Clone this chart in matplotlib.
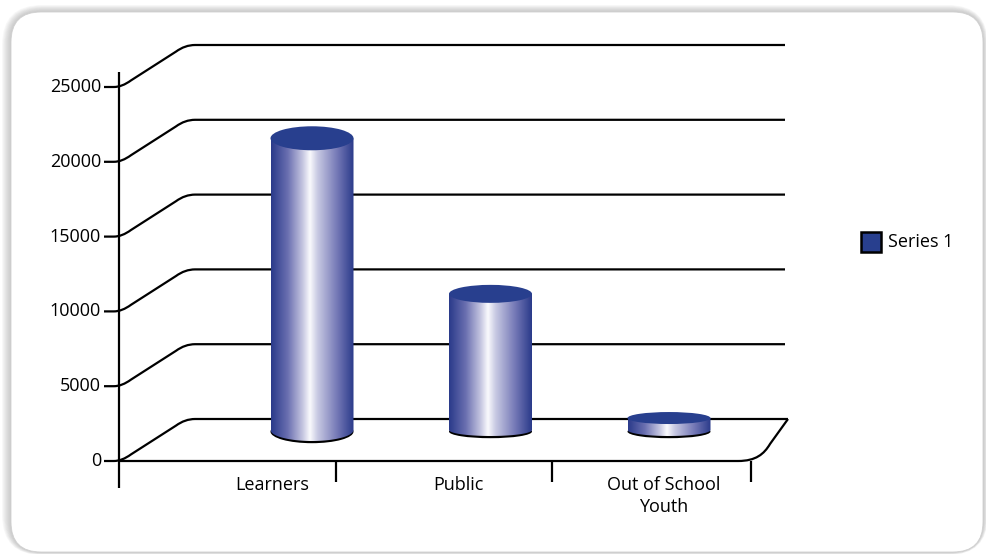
import numpy as np
import matplotlib.pyplot as plt
from matplotlib.patches import Ellipse, FancyBboxPatch, Rectangle, PathPatch, Polygon
from matplotlib.path import Path
from matplotlib.colors import LinearSegmentedColormap

plt.rcParams['font.family'] = ['Open Sans', 'DejaVu Sans']

# data
categories = ['Learners', 'Public', 'Out of School\nYouth']
values = [19500, 9100, 800]
series_name = 'Series 1'
yticks = [0, 5000, 10000, 15000, 20000, 25000]

W, H = 987, 554
# pixel calibration of the fake 3d box
PX0, PXS = 312, 178.5          # pixel x of category 0, pixels per category
PY0, PYS = 461, 74.8 / 5000    # pixel y of value 0 (front), pixels per unit
DX, DY = 76 / PXS, 42 / PYS    # depth of the box
BASE = 31 / PYS                # cylinders stand a bit behind the front edge
FS = 13

BLUE = '#283f8e'
top_hh = [12, 9, 6]      # half height of top ellipses (px)
bot_hh = [11, 6, 6]      # half height of bottom ellipses (px)
lab_dx = [-40, -32, -5]  # label shift from cylinder centre (px)


def X(px):
    return (px - PX0) / PXS


def Y(py):
    return (PY0 - py) / PYS


fig = plt.figure(figsize=(W / 100, H / 100), dpi=100)

# frame in pixel coords
ax0 = fig.add_axes([0, 0, 1, 1])
ax0.set_xlim(0, W)
ax0.set_ylim(H, 0)
ax0.axis('off')
for k in range(10, 0, -1):
    ax0.add_patch(FancyBboxPatch((11 - k * 0.9, 12 - k * 0.7), 972 + k * 1.4, 540 + k * 1.0,
                                 boxstyle='round,pad=0,rounding_size=%d' % (30 + k),
                                 fc='#8a8a8a', ec='none', alpha=0.05))
ax0.add_patch(FancyBboxPatch((11, 12), 972, 540, boxstyle='round,pad=0,rounding_size=30',
                             fc='white', ec='#d0d0d0', lw=0.6))

# legend
ax0.add_patch(Rectangle((861, 232), 20, 20, fc=BLUE, ec='black', lw=1.8))
ax0.text(888, 242, series_name, fontsize=FS, va='center', ha='left')

# chart axes in data units
ax = fig.add_axes([0, 0, 1, 1])
ax.set_xlim(X(0), X(W))
ax.set_ylim(Y(H), Y(0))
ax.patch.set_alpha(0)
ax.axis('off')

lk = dict(color='black', lw=1.6, solid_capstyle='butt', zorder=2)
xa = X(119)
bend = 6.6 / PYS

# walls: tick dash, slanted connector, back line
for t in yticks:
    y1 = t + DY
    verts = [(X(104), t), (X(114), t), (X(122), t), (X(131), t + bend),
             (X(176), y1 - bend), (X(185), y1), (X(195), y1),
             (X(785) if t else X(788), y1)]
    codes = [Path.MOVETO, Path.LINETO, Path.CURVE3, Path.CURVE3,
             Path.LINETO, Path.CURVE3, Path.CURVE3, Path.LINETO]
    ax.add_patch(PathPatch(Path(verts, codes), fill=False, ec='black', lw=1.6, zorder=2))
    ax.text(X(101), t, str(t), ha='right', va='center', fontsize=FS)

# floor front edge with rounded right corner
verts = [(xa, 0), (X(738), 0), (X(756), 0), (X(764), Y(454)), (X(770), Y(444)), (X(788), DY)]
codes = [Path.MOVETO, Path.LINETO, Path.CURVE4, Path.CURVE4, Path.CURVE4, Path.LINETO]
ax.add_patch(PathPatch(Path(verts, codes), fill=False, ec='black', lw=1.6, zorder=2))

# y axis line and category ticks
ax.plot([xa, xa], [Y(72), Y(488)], **lk)
for px in [336, 552, 751]:
    ax.plot([X(px), X(px)], [0, Y(482)], **lk)

# cylinders
cmap = LinearSegmentedColormap.from_list('cyl', [
    (0.0, '#2a3a8a'), (0.2, '#6a6fb0'), (0.38, '#c4c5e0'), (0.47, '#fafafd'),
    (0.56, '#c9cae3'), (0.8, '#7478b6'), (1.0, '#2a3a8a')])
grad = np.linspace(0, 1, 256).reshape(1, -1)
hw = 41.5 / PXS

for i, (cat, v) in enumerate(zip(categories, values)):
    yb = BASE
    yt = BASE + v
    th = top_hh[i] / PYS
    bh = bot_hh[i] / PYS
    # dark rim under the bottom
    ax.add_patch(Ellipse((i, yb - 1.6 / PYS), 2 * hw, 2 * bh + 1.2 / PYS, fc='black', ec='none', zorder=3))
    ang = np.linspace(np.pi, 2 * np.pi, 80)
    pts = [(i - hw, yt), (i - hw, yb)]
    pts += list(zip(i + hw * np.cos(ang), yb + bh * np.sin(ang)))
    pts += [(i + hw, yb), (i + hw, yt)]
    body = Polygon(pts, closed=True, transform=ax.transData, fc='none', ec='none')
    ax.add_patch(body)
    im = ax.imshow(grad, cmap=cmap, aspect='auto', extent=[i - hw, i + hw, yb - bh, yt],
                   interpolation='bilinear', zorder=4)
    im.set_clip_path(body)
    ax.add_patch(Ellipse((i, yt), 2 * hw, 2 * th, fc=BLUE, ec='none', zorder=5))
    ax.text(i + lab_dx[i] / PXS, Y(476), cat, ha='center', va='top', fontsize=FS, linespacing=1.25)

ax.set_xlim(X(0), X(W))
ax.set_ylim(Y(H), Y(0))

fig.savefig('out.png', dpi=100)
